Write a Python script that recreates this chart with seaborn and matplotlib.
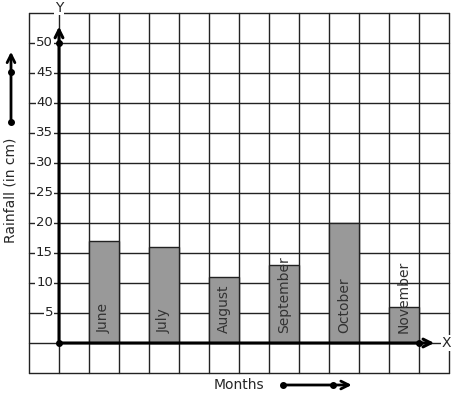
import numpy as np
import pandas as pd
import seaborn as sns
import matplotlib.pyplot as plt

# datos
meses = ['June', 'July', 'August', 'September', 'October', 'November']
lluvia = [17, 16, 11, 13, 20, 6]
y_ticks = [5, 10, 15, 20, 25, 30, 35, 40, 45, 50]

# cada mes ocupa dos celdas de la cuadricula, la barra una
df = pd.DataFrame({'mes': meses, 'lluvia': lluvia})
df['pos'] = 2 * np.arange(len(meses)) + 1.5

sns.set_style("white")
plt.rcParams['font.family'] = ['DejaVu Sans']

fig = plt.figure(figsize=(4.57, 3.99), dpi=100)
ax = fig.add_axes([0, 0, 1, 1])

# cuadricula: celdas de 1 x 5
for xv in range(-1, 14):
    ax.plot([xv, xv], [-5, 55], color='#222222', lw=1, zorder=1)
for yv in range(-5, 56, 5):
    ax.plot([-1, 13], [yv, yv], color='#222222', lw=1, zorder=1)

sns.barplot(data=df, x='pos', y='lluvia', native_scale=True, width=0.5,
            color='#999999', edgecolor='#222222', linewidth=1,
            errorbar=None, saturation=1, ax=ax, zorder=2)

# nombres de los meses dentro de las barras
for p, m in zip(df['pos'], df['mes']):
    ax.text(p, 1.6, m, rotation=90, ha='center', va='bottom',
            fontsize=10, color='#333333', zorder=4)

# etiquetas del eje y
for t in y_ticks:
    ax.text(-0.2, t, str(t), ha='right', va='center', fontsize=9.5,
            color='#222222', zorder=4,
            bbox=dict(facecolor='white', edgecolor='none', pad=0.5))

# ejes con flechas
ax.annotate('', xy=(0, 53.2), xytext=(0, 0),
            arrowprops=dict(arrowstyle='->', lw=2.2, color='black',
                            mutation_scale=14), zorder=5)
ax.annotate('', xy=(12.6, 0), xytext=(0, 0),
            arrowprops=dict(arrowstyle='->', lw=2.2, color='black',
                            mutation_scale=14), zorder=5)
ax.plot([0, 0, 12], [50, 0, 0], 'o', color='black', ms=4, zorder=6)
ax.text(0, 55.9, 'Y', ha='center', va='center', fontsize=10, zorder=6,
        bbox=dict(facecolor='white', edgecolor='none', pad=0.5))
ax.text(12.9, 0, 'X', ha='center', va='center', fontsize=10, zorder=6,
        bbox=dict(facecolor='white', edgecolor='none', pad=0.5))

# flecha lateral y etiqueta
ax.text(-1.6, 25.5, 'Rainfall (in cm)', rotation=90, ha='center',
        va='center', fontsize=10)
ax.annotate('', xy=(-1.6, 49.0), xytext=(-1.6, 36.8),
            arrowprops=dict(arrowstyle='->', lw=2, color='black',
                            mutation_scale=14))
ax.plot([-1.6, -1.6], [36.8, 45.2], 'o', color='black', ms=4)

# etiqueta inferior y flecha
ax.text(6, -7, 'Months', ha='center', va='center', fontsize=10)
ax.annotate('', xy=(9.85, -7), xytext=(7.45, -7),
            arrowprops=dict(arrowstyle='->', lw=2, color='black',
                            mutation_scale=14))
ax.plot([7.45, 9.13], [-7, -7], 'o', color='black', ms=4)

ax.set_xlim(-1 - 29 / 30, 13 + 8 / 30)
ax.set_ylim(-5 - 26 / 6, 55 + 13 / 6)
ax.axis('off')

plt.savefig('out.png', dpi=100)
